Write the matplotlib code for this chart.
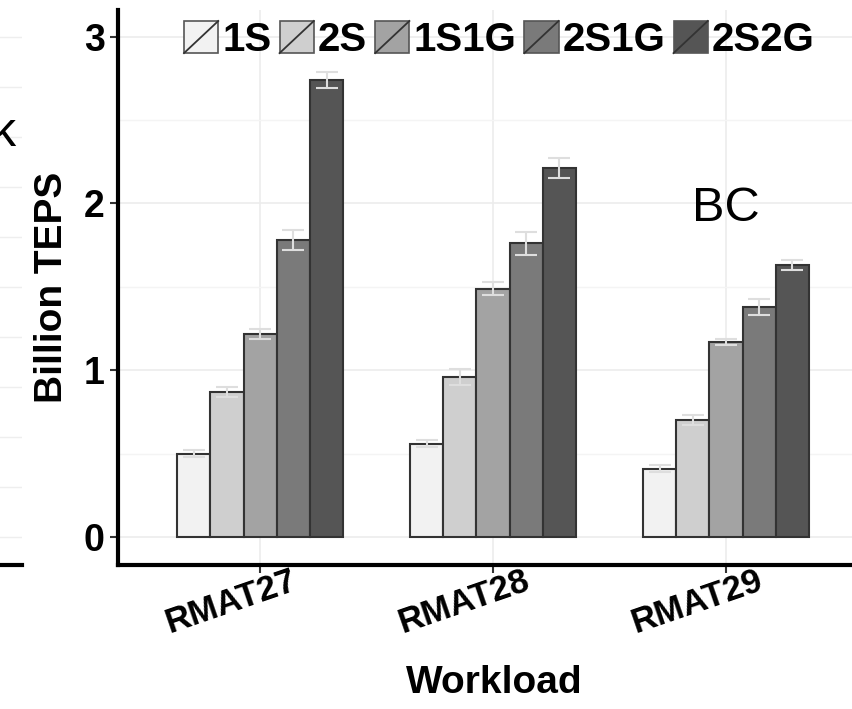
import matplotlib
matplotlib.use("Agg")
from matplotlib import pyplot as plt
from matplotlib.patches import Rectangle
from matplotlib.lines import Line2D
from matplotlib.legend_handler import HandlerBase
import numpy as np

plt.rcParams['font.family'] = ['Liberation Sans', 'DejaVu Sans']

workloads = ['RMAT27', 'RMAT28', 'RMAT29']
configs = ['1S', '2S', '1S1G', '2S1G', '2S2G']
colors = ['#f2f2f2', '#cfcfcf', '#a3a3a3', '#7a7a7a', '#555555']

# billion TEPS, one list per config (RMAT27, RMAT28, RMAT29)
teps = {
    '1S':   [0.50, 0.56, 0.41],
    '2S':   [0.87, 0.96, 0.70],
    '1S1G': [1.22, 1.49, 1.17],
    '2S1G': [1.78, 1.76, 1.38],
    '2S2G': [2.74, 2.21, 1.63],
}
err = {
    '1S':   [0.02, 0.02, 0.02],
    '2S':   [0.03, 0.05, 0.03],
    '1S1G': [0.03, 0.04, 0.02],
    '2S1G': [0.06, 0.07, 0.05],
    '2S2G': [0.05, 0.06, 0.03],
}


#legend key: filled square with a diagonal slash, like ggplot bar keys
class SlashKey(HandlerBase):
  def create_artists(self, legend, orig, xdescent, ydescent, width, height, fontsize, trans):
    rect = Rectangle((-xdescent, -ydescent), width, height, facecolor=orig.get_facecolor(),
                     edgecolor='#555555', linewidth=1.2, transform=trans)
    line = Line2D([-xdescent, -xdescent + width], [-ydescent, -ydescent + height],
                  color='#333333', linewidth=1.3, transform=trans)
    return [rect, line]


W, H = 853, 709
fig = plt.figure(figsize=(W / 100, H / 100), dpi=100)

y_lo, y_hi = -0.168, 3.16
ax_bottom = (H - 565) / H
ax_height = (565 - 10) / H

#partial neighbour panel on the left edge
left = fig.add_axes([-0.4, ax_bottom, 0.4 + 22 / W, ax_height])
left.set_ylim(y_lo, y_hi)
left.set_yticks(np.arange(0, 3.2, 0.6))
left.set_yticks(np.arange(0.3, 3.2, 0.6), minor=True)
left.grid(True, axis='y', which='both', color='#eeeeee', linewidth=1)
left.tick_params(left=False, labelleft=False, bottom=False, labelbottom=False, which='both')
for s in ['left', 'right', 'top']:
  left.spines[s].set_visible(False)
left.spines['bottom'].set_linewidth(3)
fig.text(16 / W, 1 - 133 / H, 'PageRank', ha='right', va='center', fontsize=35)

ax = fig.add_axes([118 / W, ax_bottom, 1 - 118 / W, ax_height])
x = np.arange(1, len(workloads) + 1)
bar_w = 0.1425
handles = []
for i, c in enumerate(configs):
  pos = x + (i - 2) * bar_w
  b = ax.bar(pos, teps[c], bar_w, color=colors[i], edgecolor='#333333', linewidth=1.5,
             label=c, zorder=2)
  ax.errorbar(pos, teps[c], yerr=err[c], fmt='none', ecolor='#dedede', elinewidth=1.5,
              capsize=8, capthick=1.5, zorder=3)
  handles.append(b.patches[0])

ax.set_xlim(0.39, 3.545)
ax.set_ylim(y_lo, y_hi)
ax.set_yticks([0, 1, 2, 3])
ax.set_yticks([0.5, 1.5, 2.5], minor=True)
ax.set_xticks(x)
ax.set_xticklabels([''] * len(workloads))
#rotated workload labels sit a little left of their ticks
for xi, name in zip(x, workloads):
  ax.text(xi - 0.124, -0.066, name, rotation=19, fontweight='bold', fontsize=25,
          ha='center', va='center', transform=ax.get_xaxis_transform())
ax.tick_params(axis='y', labelsize=27, length=6, width=1.5, color='#333333')
ax.tick_params(axis='x', length=6, width=1.5, color='#333333', pad=2)
ax.tick_params(axis='y', which='minor', length=0)
for lbl in ax.get_yticklabels():
  lbl.set_fontweight('bold')
ax.grid(True, which='major', color='#ececec', linewidth=1.2, zorder=0)
ax.grid(True, which='minor', axis='y', color='#f4f4f4', linewidth=1, zorder=0)
ax.set_axisbelow(True)
for s in ['right', 'top']:
  ax.spines[s].set_visible(False)
ax.spines['left'].set_linewidth(3)
ax.spines['bottom'].set_linewidth(3)

ax.set_ylabel('Billion TEPS', fontsize=28, fontweight='bold', labelpad=10)
ax.set_xlabel('Workload', fontsize=28, fontweight='bold')
ax.xaxis.set_label_coords(0.512, -0.18)

ax.text(3.0, 1.97, 'BC', fontsize=35, ha='center', va='center')

ax.legend(handles, configs, handler_map={h: SlashKey() for h in handles},
          loc='center left', bbox_to_anchor=(184 / W, 1 - 40 / H), bbox_transform=fig.transFigure,
          ncol=5, frameon=False, prop={'weight': 'bold', 'size': 29},
          handlelength=0.85, handleheight=0.85, handletextpad=0.1, columnspacing=0.2,
          borderpad=0, borderaxespad=0)

fig.savefig('out.png', dpi=100)
